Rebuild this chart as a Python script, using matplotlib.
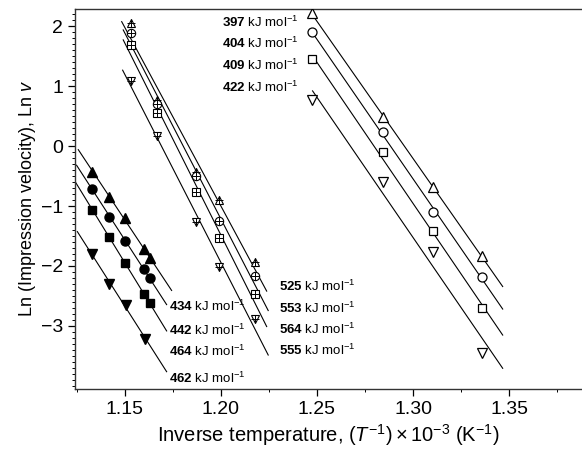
import numpy as np
import matplotlib
matplotlib.use("Agg")
import matplotlib.pyplot as plt
from matplotlib.ticker import MultipleLocator

plt.rcParams.update({
    "font.family": ["Liberation Sans", "DejaVu Sans"],
    "mathtext.fontset": "custom",
    "mathtext.rm": "Liberation Sans",
    "mathtext.it": "Liberation Sans:italic",
    "mathtext.bf": "Liberation Sans:bold",
})

# --- data (x in 1e-3 K^-1, y = ln v) ---
# low-temperature-range group, filled markers
filled_x = [1.1331, 1.1418, 1.1500, 1.1600, 1.1628]
filled_up = [-0.43, -0.845, -1.195, -1.72, -1.87]
filled_circ = [-0.717, -1.178, -1.578, -2.05, -2.205]
filled_sq = [-1.067, -1.52, -1.945, -2.47, -2.62]
filled_down_x = [1.1330, 1.1418, 1.1505, 1.1606]
filled_down = [-1.805, -2.305, -2.65, -3.22]
filled_labels = ["434", "442", "464", "462"]

# middle group, crossed markers
cross_x = [1.1531, 1.1665, 1.1870, 1.1991, 1.2177]
cross_up = [2.045, 0.767, -0.428, -0.90, -1.94]
cross_circ = [1.878, 0.70, -0.50, -1.25, -2.175]
cross_sq = [1.683, 0.545, -0.762, -1.538, -2.463]
cross_down = [1.088, 0.167, -1.262, -2.022, -2.888]
cross_labels = ["525", "553", "564", "555"]

# high group, open markers
open_x = [1.2472, 1.2842, 1.3103, 1.3358]
open_up = [2.222, 0.488, -0.678, -1.833]
open_circ = [1.905, 0.228, -1.095, -2.178]
open_sq = [1.45, -0.095, -1.417, -2.705]
open_down = [0.767, -0.605, -1.762, -3.445]
open_labels = ["397", "404", "409", "422"]

# x extent of the regression lines drawn through each set
filled_fit = [(1.1257, 1.1743), (1.1248, 1.1717), (1.1245, 1.1717), (1.1252, 1.1717)]
cross_fit = [(1.1483, 1.2238), (1.1491, 1.2246), (1.1491, 1.2238), (1.1488, 1.2246)]
open_fit = [(1.2477, 1.3467)] * 4

fig = plt.figure(figsize=(5.82, 4.58), dpi=100)
ax = fig.add_axes([0.1289, 0.1507, 0.8711, 0.8307])

markers = ["^", "o", "s", "v"]
ms = [7, 6.5, 6, 7]


def fit_line(x, y, rng):
    k, b = np.polyfit(x, y, 1)
    xs = np.array(rng)
    ax.plot(xs, k * xs + b, color="black", lw=0.8, zorder=1)


filled_sets = [(filled_x, filled_up), (filled_x, filled_circ),
               (filled_x, filled_sq), (filled_down_x, filled_down)]
for (x, y), m, s, rng in zip(filled_sets, markers, ms, filled_fit):
    fit_line(x, y, rng)
    ax.plot(x, y, ls="none", marker=m, ms=s, color="black", zorder=3)

cross_sets = [cross_up, cross_circ, cross_sq, cross_down]
for y, m, rng in zip(cross_sets, markers, cross_fit):
    fit_line(cross_x, y, rng)
    ax.plot(cross_x, y, ls="none", marker=m, ms=6, mfc="white", mec="black",
            mew=0.8, zorder=3)
    ax.plot(cross_x, y, ls="none", marker="+", ms=6, mec="black", mew=0.7, zorder=4)

open_sets = [open_up, open_circ, open_sq, open_down]
for y, m, s, rng in zip(open_sets, markers, ms, open_fit):
    fit_line(open_x, y, rng)
    ax.plot(open_x, y, ls="none", marker=m, ms=s, mfc="white", mec="black",
            mew=0.9, zorder=3)

# activation energy labels
def energy(v):
    return r"$\mathbf{" + v + r"}$ kJ mol$^{-1}$"

for lab, yy in zip(filled_labels, [-2.678, -3.067, -3.417, -3.872]):
    ax.text(1.1729, yy, energy(lab), fontsize=9.5, va="center", ha="left")
for lab, yy in zip(cross_labels, [-2.345, -2.705, -3.05, -3.40]):
    ax.text(1.2304, yy, energy(lab), fontsize=9.5, va="center", ha="left")
for lab, yy in zip(open_labels, [2.067, 1.708, 1.35, 0.983]):
    ax.text(1.2004, yy, energy(lab), fontsize=9.5, va="center", ha="left")

ax.set_xlim(1.1240, 1.388)
ax.set_ylim(-4.05, 2.292)
ax.xaxis.set_minor_locator(MultipleLocator(0.025))
ax.yaxis.set_minor_locator(MultipleLocator(0.1))
ax.set_xticks([1.15, 1.20, 1.25, 1.30, 1.35])
ax.set_xticklabels(["1.15", "1.20", "1.25", "1.30", "1.35"])
ax.set_yticks([-3, -2, -1, 0, 1, 2])
ax.tick_params(which="major", direction="out", length=5, width=0.9, labelsize=14)
ax.tick_params(which="minor", direction="out", length=2.5, width=0.7)
ax.spines["right"].set_visible(False)
for s in ["left", "bottom", "top"]:
    ax.spines[s].set_linewidth(1.0)
    ax.spines[s].set_color("#333333")

ax.set_xlabel(r"Inverse temperature, $(T^{-1})\times10^{-3}$ (K$^{-1}$)", fontsize=14.5,
              labelpad=3)
ax.set_ylabel(r"Ln (Impression velocity), Ln $v$", fontsize=13, labelpad=2)

fig.savefig("out.png", dpi=100)
